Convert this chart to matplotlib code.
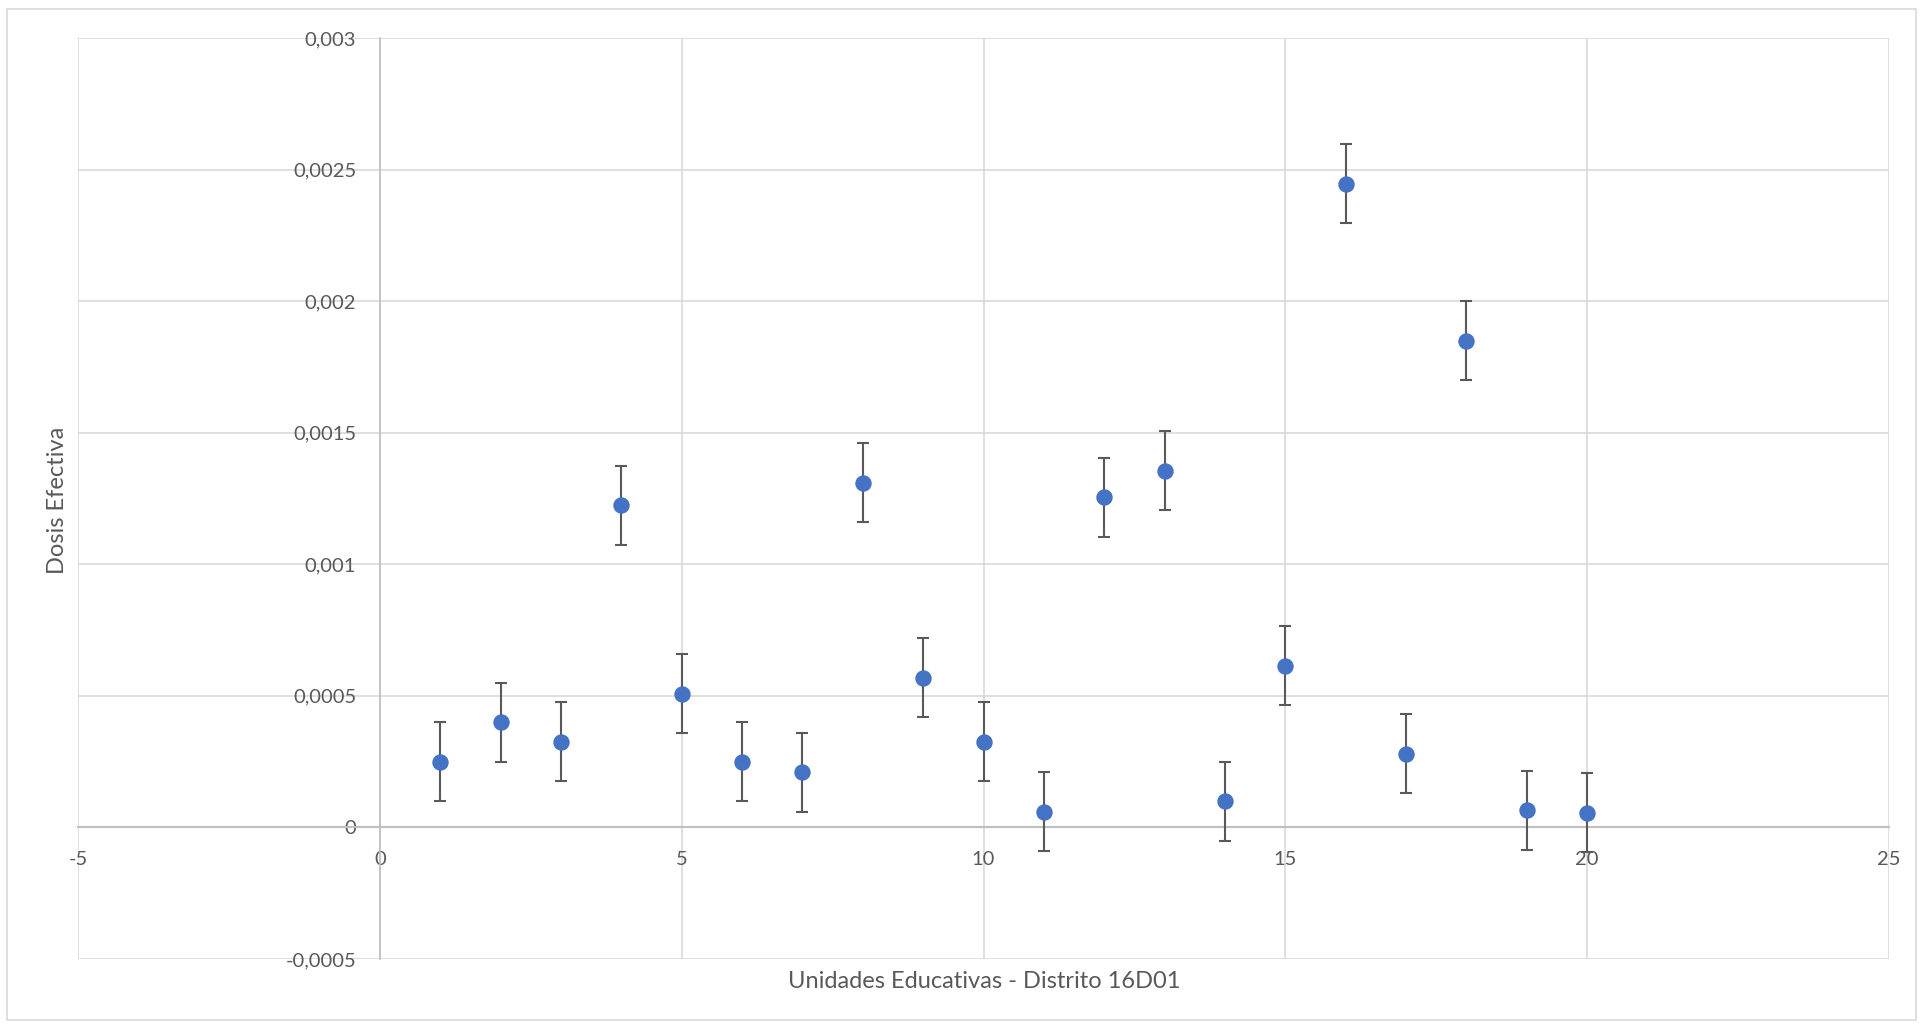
import numpy as np
import matplotlib.pyplot as plt
from matplotlib.ticker import FuncFormatter, MultipleLocator
from matplotlib.patches import Rectangle

# Unidades educativas (x) and dosis efectiva (y)
unidades = [1, 2, 3, 4, 5, 6, 7, 8, 9, 10, 11, 12, 13, 14, 15, 16, 17, 18, 19, 20]
dosis = [0.00025, 0.0004, 0.000326, 0.001225, 0.000508, 0.00025, 0.00021, 0.00131,
         0.000569, 0.000326, 0.00006, 0.001254, 0.001356, 0.0001, 0.000615, 0.002447,
         0.00028, 0.00185, 0.000065, 0.000056]
error = [0.00015] * len(dosis)

plt.rcParams['font.family'] = ['Lato', 'DejaVu Sans']

fig = plt.figure(figsize=(19.23, 10.26), dpi=100)
ax = fig.add_axes([78/1923, 1-959/1026, (1889-78)/1923, (959-38)/1026])

ax.errorbar(unidades, dosis, yerr=error, fmt='o', color='#4472C4', markersize=10.8,
            ecolor='#595959', elinewidth=1.5, capsize=4.5, capthick=1.5, zorder=3)

ax.set_xlim(-5, 25)
ax.set_ylim(-0.0005, 0.003)
ax.xaxis.set_major_locator(MultipleLocator(5))
ax.yaxis.set_major_locator(MultipleLocator(0.0005))

fmt = FuncFormatter(lambda v, p: ("%g" % round(v, 6)).replace('.', ','))
ax.xaxis.set_major_formatter(fmt)
ax.yaxis.set_major_formatter(fmt)

ax.grid(True, color='#D9D9D9', linewidth=1.2)
ax.set_axisbelow(True)

for s in ['top', 'right']:
    ax.spines[s].set_visible(False)
ax.spines['left'].set_position(('data', 0))
ax.spines['bottom'].set_position(('data', 0))
ax.spines['left'].set_color('#BFBFBF')
ax.spines['bottom'].set_color('#BFBFBF')
ax.spines['left'].set_linewidth(1.2)
ax.spines['bottom'].set_linewidth(1.5)

ax.tick_params(length=0, labelsize=14.5, labelcolor='#595959')
ax.tick_params(axis='x', pad=17)
ax.tick_params(axis='y', pad=17)

fig.text(58/1923, 1-500/1026, 'Dosis Efectiva', rotation=90, ha='center', va='center',
         fontsize=17, color='#595959')
fig.text(984/1923, 1-982/1026, 'Unidades Educativas - Distrito 16D01', ha='center',
         va='center', fontsize=17, color='#595959')

# chart area border
fig.patches.append(Rectangle((7/1923, 1-1020/1026), (1916-7)/1923, (1020-9)/1026,
                             transform=fig.transFigure, fill=False,
                             edgecolor='#D9D9D9', linewidth=1.2))

fig.savefig('out.png')
